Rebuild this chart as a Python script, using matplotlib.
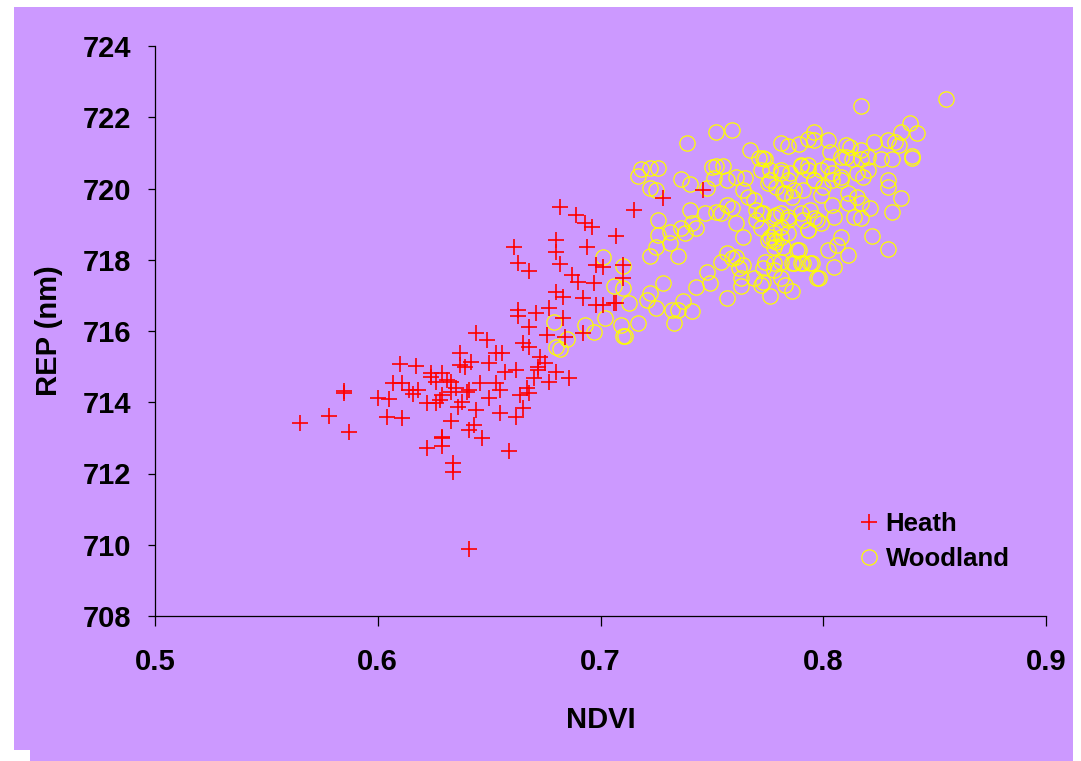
import matplotlib.pyplot as plt
from matplotlib.patches import Rectangle

# Heath points (NDVI, REP)
heath_x = [0.644, 0.610, 0.617, 0.585, 0.585, 0.600, 0.605, 0.607, 0.611, 0.614, 0.616, 0.618, 0.578, 0.565,
           0.587, 0.604, 0.611, 0.624, 0.629, 0.626, 0.622, 0.628, 0.629, 0.636, 0.633, 0.622, 0.629, 0.629,
           0.634, 0.634, 0.637, 0.637, 0.639, 0.642, 0.640, 0.644, 0.641, 0.643, 0.635, 0.631, 0.641, 0.633,
           0.638,
           0.682, 0.689, 0.693, 0.696, 0.707, 0.680, 0.680, 0.694, 0.661, 0.663, 0.668, 0.682, 0.687, 0.690,
           0.697, 0.692, 0.680, 0.683, 0.698, 0.707, 0.663, 0.663, 0.671, 0.677, 0.683, 0.668, 0.676, 0.684,
           0.692, 0.649, 0.665, 0.668, 0.653, 0.656, 0.673, 0.675, 0.650, 0.662, 0.672, 0.680, 0.686, 0.657,
           0.624, 0.633, 0.653, 0.670, 0.655, 0.641, 0.667, 0.668, 0.650, 0.626, 0.665, 0.655, 0.662, 0.647,
           0.629, 0.659, 0.698, 0.664, 0.646, 0.677, 0.672,
           0.715, 0.728, 0.746, 0.701, 0.710, 0.710, 0.706, 0.701]
heath_y = [715.95, 715.07, 715.02, 714.32, 714.25, 714.11, 714.08, 714.53, 714.53, 714.34, 714.22, 714.34, 713.62, 713.41,
           713.17, 713.58, 713.55, 714.83, 714.83, 714.58, 713.97, 714.06, 714.20, 713.87, 713.48, 712.71, 713.02, 712.77,
           712.29, 712.03, 715.05, 715.39, 715.00, 715.14, 714.29, 713.78, 713.22, 713.36, 714.39, 714.62, 709.88, 714.29,
           714.01,
           719.47, 719.26, 719.02, 718.93, 718.68, 718.56, 718.23, 718.37, 718.35, 717.90, 717.68, 717.88, 717.57, 717.38,
           717.36, 716.92, 717.09, 716.96, 716.73, 716.78, 716.59, 716.42, 716.50, 716.64, 716.36, 716.12, 715.89, 715.84,
           715.94, 715.75, 715.66, 715.56, 715.37, 715.37, 715.28, 715.09, 715.09, 714.90, 715.00, 714.86, 714.67, 714.86,
           714.72, 714.58, 714.53, 714.67, 714.34, 714.34, 714.39, 714.25, 714.11, 713.97, 713.83, 713.69, 713.60, 712.99,
           712.99, 712.64, 717.85, 714.20, 714.53, 714.58, 714.90,
           719.39, 719.72, 719.96, 717.80, 717.85, 717.50, 716.80, 716.73]

# Woodland points (NDVI, REP)
wood_x = [0.701, 0.710, 0.706, 0.710, 0.713, 0.679, 0.685, 0.680, 0.682, 0.693, 0.697, 0.702, 0.709, 0.710,
          0.739, 0.752, 0.759, 0.767, 0.771, 0.773, 0.781, 0.784, 0.789, 0.793, 0.796, 0.796,
          0.718, 0.722, 0.726, 0.717, 0.736, 0.740, 0.722, 0.725,
          0.750, 0.752, 0.755, 0.751, 0.748, 0.757, 0.761, 0.765,
          0.764, 0.766, 0.769, 0.757, 0.759, 0.754, 0.772, 0.770,
          0.776, 0.781, 0.784, 0.787, 0.783, 0.790, 0.793, 0.796,
          0.778, 0.781, 0.784, 0.781, 0.778, 0.781, 0.779,
          0.790, 0.794, 0.793, 0.797,
          0.740, 0.741, 0.743, 0.747, 0.752,
          0.726, 0.726, 0.731, 0.731, 0.736, 0.738,
          0.725, 0.722, 0.735,
          0.728, 0.722, 0.737, 0.741,
          0.743, 0.749, 0.748, 0.754, 0.757, 0.761,
          0.759, 0.762, 0.764, 0.763, 0.763, 0.757,
          0.761, 0.764, 0.770, 0.772, 0.775, 0.778,
          0.773, 0.778, 0.781, 0.786, 0.790, 0.794,
          0.769, 0.772, 0.776, 0.783, 0.786, 0.789,
          0.797, 0.781,
          0.721, 0.725, 0.732, 0.735, 0.717, 0.711, 0.733,
          0.817, 0.855, 0.839, 0.835, 0.842, 0.829, 0.832, 0.834, 0.823, 0.840, 0.840, 0.831, 0.826,
          0.829, 0.829, 0.835, 0.831, 0.822, 0.829,
          0.802, 0.803, 0.810, 0.812, 0.817, 0.810, 0.808, 0.813, 0.817, 0.820,
          0.774, 0.772, 0.776, 0.781, 0.785, 0.790, 0.793,
          0.799, 0.802, 0.804, 0.808, 0.815, 0.818, 0.820,
          0.775, 0.779, 0.782, 0.786, 0.791, 0.796, 0.800, 0.799, 0.804, 0.808,
          0.811, 0.815, 0.817, 0.821, 0.811, 0.804,
          0.773, 0.779, 0.784, 0.791, 0.796, 0.799, 0.805, 0.814, 0.817,
          0.793, 0.784, 0.778, 0.776,
          0.802, 0.806, 0.808, 0.811, 0.788, 0.782,
          0.774, 0.778, 0.787, 0.791, 0.795, 0.805, 0.798,
          0.773]
wood_y = [718.09, 717.82, 717.25, 717.20, 716.78, 716.25, 715.77, 715.56, 715.49, 716.17, 715.96, 716.36, 716.17, 715.87,
          721.27, 721.59, 721.64, 721.08, 720.86, 720.86, 721.27, 721.19, 721.25, 721.38, 721.59, 721.36,
          720.54, 720.57, 720.57, 720.35, 720.26, 720.13, 720.01, 719.96,
          720.60, 720.63, 720.62, 720.29, 720.01, 720.24, 720.33, 720.29,
          719.96, 719.77, 719.68, 719.54, 719.44, 719.30, 719.30, 719.40,
          720.24, 720.43, 720.24, 719.96, 719.87, 720.62, 720.52, 720.24,
          719.21, 719.30, 719.12, 718.93, 718.74, 718.65, 718.51,
          719.30, 719.40, 718.84, 719.12,
          719.40, 719.02, 718.88, 719.30, 719.35,
          719.12, 718.70, 718.79, 718.46, 718.88, 718.74,
          718.37, 718.11, 718.11,
          717.35, 717.06, 716.84, 716.56,
          717.23, 717.35, 717.67, 717.95, 718.19, 718.09,
          718.05, 717.77, 717.86, 717.49, 717.25, 716.92,
          719.02, 718.65, 719.12, 718.88, 718.56, 718.37,
          717.76, 717.72, 717.95, 717.90, 717.90, 717.90,
          717.49, 717.30, 716.98, 717.30, 717.11, 718.28,
          717.49, 717.49,
          716.87, 716.64, 716.59, 716.59, 716.22, 715.86, 716.22,
          722.32, 722.50, 721.83, 721.59, 721.57, 721.36, 721.31, 721.22, 721.31, 720.91, 720.87, 720.84, 720.84,
          720.24, 720.05, 719.72, 719.33, 718.67, 718.29,
          721.36, 721.03, 721.22, 721.17, 721.08, 720.89, 720.89, 720.84, 720.84, 720.89,
          720.84, 720.52, 720.52, 720.52, 720.43, 720.66, 720.66,
          720.52, 720.62, 720.43, 720.33, 720.43, 720.33, 720.52,
          720.15, 720.05, 719.87, 719.77, 719.96, 720.24, 720.05, 719.82, 720.24, 720.24,
          719.87, 719.77, 719.58, 719.44, 719.58, 719.54,
          719.30, 719.26, 719.21, 719.12, 719.17, 719.02, 719.21, 719.21, 719.17,
          718.84, 718.74, 718.56, 718.65,
          718.27, 718.41, 718.65, 718.13, 718.28, 718.37,
          717.95, 717.90, 717.90, 717.90, 717.90, 717.81, 717.50,
          717.38]

x_ticks = [0.5, 0.6, 0.7, 0.8, 0.9]
y_ticks = [708, 710, 712, 714, 716, 718, 720, 722, 724]

bg = '#CC99FF'
plt.rcParams['font.family'] = ['Liberation Sans', 'DejaVu Sans']
plt.rcParams['font.weight'] = 'bold'

fig = plt.figure(figsize=(10.81, 7.61), dpi=100, facecolor='white')
# purple chart area with the little white notch at the bottom left
fig.patches.append(Rectangle((14 / 1081, 0), 1059 / 1081, 754 / 761, transform=fig.transFigure,
                             facecolor=bg, edgecolor='none', zorder=-10))
fig.patches.append(Rectangle((14 / 1081, 0), 16 / 1081, 11 / 761, transform=fig.transFigure,
                             facecolor='white', edgecolor='none', zorder=-9))

ax = fig.add_axes([155 / 1081, 1 - 616 / 761, 891 / 1081, 570 / 761])
ax.set_facecolor(bg)

ax.plot(heath_x, heath_y, linestyle='none', marker='+', markersize=12, markeredgewidth=1.2,
        color='#FF0000', label='Heath', zorder=3)
ax.plot(wood_x, wood_y, linestyle='none', marker='o', markersize=11, markeredgewidth=0.9,
        markerfacecolor='none', markeredgecolor='#FFFF00', label='Woodland', zorder=2)

ax.set_xlim(0.5, 0.9)
ax.set_ylim(708, 724)
ax.set_xticks(x_ticks)
ax.set_xticklabels([str(v) for v in x_ticks])
ax.set_yticks(y_ticks)

for s in ['top', 'right']:
    ax.spines[s].set_visible(False)
for s in ['left', 'bottom']:
    ax.spines[s].set_linewidth(0.9)
    ax.spines[s].set_color('black')

ax.tick_params(axis='y', direction='out', length=5, width=0.9, pad=12, labelsize=21)
ax.tick_params(axis='x', direction='out', length=7, width=0.9, pad=16, labelsize=21)

ax.set_xlabel('NDVI', fontsize=21, fontweight='bold')
ax.set_ylabel('REP (nm)', fontsize=21, fontweight='bold')
ax.xaxis.set_label_coords(0.5, -0.158)
ax.yaxis.set_label_coords(-0.103, 0.5)

ax.legend(loc='upper left', bbox_to_anchor=(0.793, 0.183), frameon=False, fontsize=18.5,
          handlelength=0.6, handletextpad=0.34, labelspacing=0.45, borderpad=0, borderaxespad=0)

plt.savefig('out.png', dpi=100, facecolor='white')
